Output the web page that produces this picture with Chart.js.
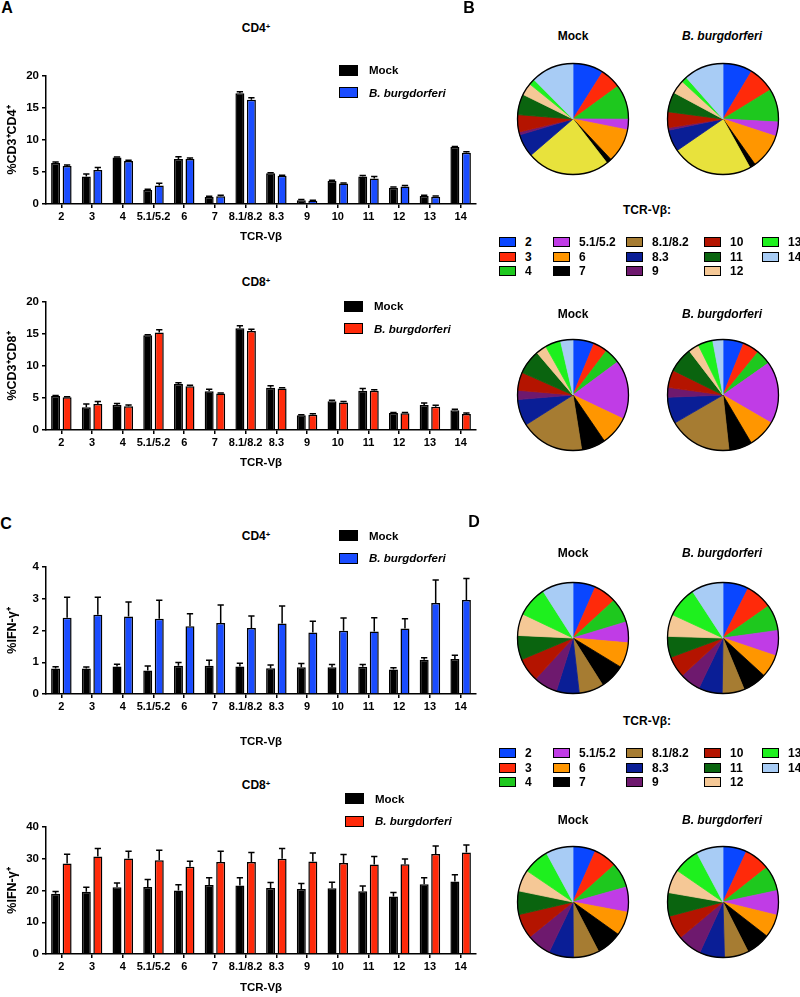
<!DOCTYPE html>
<html>
<head>
<meta charset="utf-8">
<script src="https://cdn.jsdelivr.net/npm/chart.js@4.4.0/dist/chart.umd.min.js"></script>
<style>
  body { margin: 0; background: #fff; }
  #fig { position: relative; width: 800px; height: 997px; overflow: hidden;
         font-family: "Liberation Sans", Arial, Helvetica, sans-serif; font-weight: bold; color: #000; }
  #fig canvas { position: absolute; }
  .c { position: absolute; white-space: nowrap; transform: translate(-50%, -50%); }
  .l { position: absolute; white-space: nowrap; transform: translateY(-50%); }
  .box { position: absolute; box-sizing: border-box; border: 1.5px solid #000; }
  sup { font-size: 65%; vertical-align: 0.45em; line-height: 0; }
</style>
</head>
<body>
<div id="fig"></div>
<script>
// TCR-Vbeta families on the x axis
const categories = ['2', '3', '4', '5.1/5.2', '6', '7', '8.1/8.2', '8.3', '9', '10', '11', '12', '13', '14'];

// A: % of CD3+CD4+ / CD3+CD8+ cells
const cd4Mock    = [6.4, 4.3, 7.25, 2.2, 7.05, 1.1, 17.3, 4.8, 0.6, 3.6, 4.3, 2.55, 1.25, 8.9];
const cd4MockErr = [0.15, 0.4, 0.1, 0.1, 0.35, 0.1, 0.25, 0.1, 0.1, 0.1, 0.15, 0.1, 0.1, 0.1];
const cd4Bb      = [5.95, 5.3, 6.7, 2.9, 7.05, 1.2, 16.3, 4.4, 0.5, 3.2, 4.0, 2.75, 1.15, 8.0];
const cd4BbErr   = [0.15, 0.4, 0.15, 0.35, 0.15, 0.15, 0.3, 0.1, 0.1, 0.1, 0.3, 0.15, 0.1, 0.15];

const cd8Mock    = [5.3, 3.55, 3.9, 14.8, 7.2, 6.05, 15.9, 6.6, 2.3, 4.5, 6.15, 2.65, 3.9, 3.1];
const cd8MockErr = [0.1, 0.5, 0.25, 0.1, 0.2, 0.3, 0.4, 0.3, 0.1, 0.15, 0.35, 0.1, 0.3, 0.15];
const cd8Bb      = [5.1, 4.05, 3.7, 15.25, 6.85, 5.7, 15.45, 6.5, 2.4, 4.3, 6.15, 2.6, 3.65, 2.5];
const cd8BbErr   = [0.1, 0.4, 0.2, 0.4, 0.15, 0.1, 0.3, 0.1, 0.15, 0.15, 0.15, 0.15, 0.2, 0.15];

// C: % IFN-gamma+ cells
const ifn4Mock    = [0.8, 0.8, 0.87, 0.74, 0.89, 0.89, 0.87, 0.81, 0.84, 0.84, 0.86, 0.77, 1.08, 1.1];
const ifn4MockErr = [0.06, 0.05, 0.07, 0.14, 0.1, 0.17, 0.1, 0.1, 0.12, 0.09, 0.07, 0.06, 0.06, 0.12];
const ifn4Bb      = [2.4, 2.5, 2.44, 2.37, 2.13, 2.24, 2.08, 2.22, 1.94, 1.99, 1.97, 2.06, 2.87, 2.96];
const ifn4BbErr   = [0.65, 0.55, 0.46, 0.58, 0.4, 0.56, 0.38, 0.55, 0.35, 0.4, 0.43, 0.31, 0.72, 0.68];

const ifn8Mock    = [19.0, 19.6, 21.0, 21.1, 20.0, 21.7, 21.6, 20.8, 20.5, 20.7, 19.8, 18.1, 22.0, 22.8];
const ifn8MockErr = [0.7, 1.4, 1.4, 2.4, 1.8, 2.3, 2.4, 1.7, 1.7, 1.9, 1.6, 1.3, 2.0, 2.2];
const ifn8Bb      = [28.5, 30.7, 30.1, 29.5, 27.5, 29.0, 29.0, 30.0, 29.1, 28.7, 28.2, 28.3, 31.5, 32.0];
const ifn8BbErr   = [2.9, 2.5, 2.3, 3.2, 1.7, 3.4, 3.0, 3.2, 2.7, 2.6, 2.5, 1.6, 2.5, 2.3];

// slice colours for the pies / legend
const vbColors = ['#0a46ff', '#ff2a0a', '#1ec81e', '#c03ce6', '#ff9600', '#000000', '#a67c32',
                  '#0a1e96', '#6e196e', '#b41400', '#0a640f', '#f5c896', '#1ef01e', '#a8ccf5'];
// first pie row draws 8.1/8.2 in yellow
const vbColorsB1 = vbColors.map((c, i) => i === 6 ? '#e8e23c' : c);

const family = '"Liberation Sans", Arial, Helvetica, sans-serif';
Chart.defaults.font.family = family;
Chart.defaults.color = '#000';

const fig = document.getElementById('fig');

function text(x, y, html, size, cls, style) {
    const d = document.createElement('div');
    d.className = cls || 'c';
    d.style.left = x + 'px';
    d.style.top = y + 'px';
    d.style.fontSize = size + 'px';
    if (style) d.style.cssText += style;
    d.innerHTML = html;
    fig.appendChild(d);
}

function box(x, y, w, h, color) {
    const d = document.createElement('div');
    d.className = 'box';
    d.style.cssText += `left:${x}px;top:${y}px;width:${w}px;height:${h}px;background:${color}`;
    fig.appendChild(d);
}

function canvasAt(x, y, w, h) {
    const c = document.createElement('canvas');
    c.width = w;
    c.height = h;
    c.style.left = x + 'px';
    c.style.top = y + 'px';
    fig.appendChild(c);
    return c;
}

// upper SEM whiskers
const errorBars = {
    id: 'errorBars',
    afterDatasetsDraw(chart) {
        const ctx = chart.ctx;
        const y = chart.scales.y;
        ctx.save();
        ctx.strokeStyle = '#000';
        ctx.lineWidth = 1.5;
        chart.data.datasets.forEach((ds, i) => {
            chart.getDatasetMeta(i).data.forEach((bar, j) => {
                const top = y.getPixelForValue(ds.data[j] + ds.errors[j]);
                const half = bar.width * 0.35;
                ctx.beginPath();
                ctx.moveTo(bar.x, bar.y);
                ctx.lineTo(bar.x, top);
                ctx.moveTo(bar.x - half, top);
                ctx.lineTo(bar.x + half, top);
                ctx.stroke();
            });
        });
        ctx.restore();
    }
};

// black outline around each pie
const ring = {
    id: 'ring',
    afterDatasetsDraw(chart) {
        const arc = chart.getDatasetMeta(0).data[0];
        const ctx = chart.ctx;
        ctx.save();
        ctx.strokeStyle = '#000';
        ctx.lineWidth = 1.3;
        ctx.beginPath();
        ctx.arc(arc.x, arc.y, arc.outerRadius, 0, Math.PI * 2);
        ctx.stroke();
        ctx.restore();
    }
};

function barChart(top, height, xHeight, mock, mockErr, bb, bbErr, bbColor, yMax, yStep, yTitle) {
    const canvas = canvasAt(0, top, 480, height);
    const axisGrid = { drawOnChartArea: false, color: '#000', lineWidth: 1.5, tickLength: 4 };
    new Chart(canvas, {
        type: 'bar',
        data: {
            labels: categories,
            datasets: [
                { label: 'Mock', data: mock, errors: mockErr, backgroundColor: '#000', borderColor: '#000',
                  borderWidth: 1.5, categoryPercentage: 0.75, barPercentage: 0.78 },
                { label: 'B. burgdorferi', data: bb, errors: bbErr, backgroundColor: bbColor, borderColor: '#000',
                  borderWidth: 1.5, categoryPercentage: 0.75, barPercentage: 0.78 }
            ]
        },
        options: {
            responsive: false,
            animation: false,
            layout: { padding: { top: 10, right: 4, left: 0, bottom: 0 } },
            plugins: { legend: { display: false }, tooltip: { enabled: false } },
            scales: {
                x: {
                    grid: Object.assign({ offset: false }, axisGrid),
                    border: { color: '#000', width: 1.5 },
                    ticks: { color: '#000', font: { size: 11, weight: 'bold', family },
                             autoSkip: false, maxRotation: 0, padding: 2 },
                    title: { display: true, text: 'TCR-Vβ', color: '#000', font: { size: 11.5, weight: 'bold', family } },
                    afterFit(s) { s.height = xHeight; }
                },
                y: {
                    min: 0,
                    max: yMax,
                    grid: axisGrid,
                    border: { color: '#000', width: 1.5 },
                    ticks: { stepSize: yStep, color: '#000', font: { size: 11.5, weight: 'bold', family }, padding: 3 },
                    title: { display: true, text: yTitle, color: '#000', padding: { top: 5, bottom: 0 },
                             font: { size: 12.5, weight: 'bold', family } },
                    afterFit(s) { s.width = 46; }
                }
            }
        },
        plugins: [errorBars]
    });
}

function pieChart(cx, cy, values, colors) {
    const canvas = canvasAt(cx - 60, cy - 60, 120, 120);
    new Chart(canvas, {
        type: 'pie',
        data: {
            labels: categories,
            datasets: [{ data: values, backgroundColor: colors, borderColor: colors, borderWidth: 0.8 }]
        },
        options: {
            responsive: false,
            animation: false,
            radius: 55.5,
            plugins: { legend: { display: false }, tooltip: { enabled: false } }
        },
        plugins: [ring]
    });
}

function barLegend(x, yMock, yBb, color) {
    box(x, yMock - 5.5, 19, 11, '#000');
    box(x, yBb - 5.5, 19, 11, color);
    text(x + 30, yMock, 'Mock', 11.5, 'l');
    text(x + 30, yBb, '<i>B. burgdorferi</i>', 11.5, 'l');
}

function vbLegend(y) {
    text(647, y - 32, 'TCR-Vβ:', 12);
    const boxX = [499, 553, 626, 704, 762];
    const rows = [0, 14.6, 29.2];
    categories.forEach((cat, i) => {
        const col = Math.floor(i / 3), row = i % 3;
        box(boxX[col], y + rows[row] - 5, 17, 10, vbColors[i]);
        text(boxX[col] + 26, y + rows[row], cat, 12, 'l');
    });
}

// ---- panel A ----
text(7, 8, 'A', 16);
text(256, 28, 'CD4<sup>+</sup>', 12);
barChart(66, 182, 44, cd4Mock, cd4MockErr, cd4Bb, cd4BbErr, '#1a4cff', 20, 5, '%CD3⁺CD4⁺');
barLegend(339, 70, 92.5, '#1a4cff');

text(256, 282, 'CD8<sup>+</sup>', 12);
barChart(292, 182, 44, cd8Mock, cd8MockErr, cd8Bb, cd8BbErr, '#ff2a0a', 20, 5, '%CD3⁺CD8⁺');
barLegend(344, 306, 328.5, '#ff2a0a');

// ---- panel C ----
text(6, 524, 'C', 16);
text(256, 536, 'CD4<sup>+</sup>', 12);
barChart(557, 196, 59, ifn4Mock, ifn4MockErr, ifn4Bb, ifn4BbErr, '#1a4cff', 4, 1, '%IFN-γ⁺');
barLegend(339, 535.5, 558, '#1a4cff');

text(256, 785, 'CD8<sup>+</sup>', 12);
barChart(817, 182, 45, ifn8Mock, ifn8MockErr, ifn8Bb, ifn8BbErr, '#ff2a0a', 40, 10, '%IFN-γ⁺');
barLegend(345, 798.5, 821, '#ff2a0a');

// ---- panel B ----
text(469, 8, 'B', 16);
text(573, 36, 'Mock', 12);
text(722, 36, '<i>B. burgdorferi</i>', 12);
pieChart(573, 118.5, cd4Mock, vbColorsB1);
pieChart(722.5, 118.5, cd4Bb, vbColorsB1);
vbLegend(242);
text(573, 314, 'Mock', 12);
text(722, 314, '<i>B. burgdorferi</i>', 12);
pieChart(573, 395, cd8Mock, vbColors);
pieChart(722.5, 395, cd8Bb, vbColors);

// ---- panel D ----
text(474, 522, 'D', 16);
text(573, 553, 'Mock', 12);
text(722, 553, '<i>B. burgdorferi</i>', 12);
pieChart(573, 638, ifn4Mock, vbColors);
pieChart(722.5, 638, ifn4Bb, vbColors);
vbLegend(753);
text(573, 820, 'Mock', 12);
text(722, 820, '<i>B. burgdorferi</i>', 12);
pieChart(573, 902, ifn8Mock, vbColors);
pieChart(722.5, 902, ifn8Bb, vbColors);
</script>
</body>
</html>
